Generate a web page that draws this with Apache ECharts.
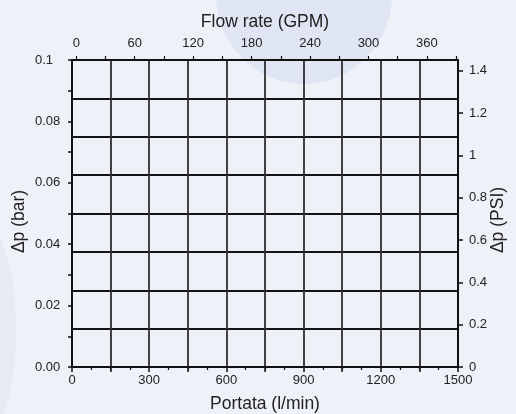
<!DOCTYPE html>
<html>
<head>
<meta charset="utf-8">
<script src="https://cdn.jsdelivr.net/npm/echarts@6/dist/echarts.min.js"></script>
<style>
  html, body { margin: 0; padding: 0; background: #eef1f8; }
  #main { width: 516px; height: 414px; }
</style>
</head>
<body>
<div id="main"></div>
<script>
// tick values / labels
var portataTicks = [0, 300, 600, 900, 1200, 1500];
var portataMinor = [0, 150, 300, 450, 600, 750, 900, 1050, 1200, 1350, 1500];
var gpmTicks = [0, 60, 120, 180, 240, 300, 360];
var gpmMinor = [0, 30, 60, 90, 120, 150, 180, 210, 240, 270, 300, 330, 360, 390];
var barTicks = [0, 0.02, 0.04, 0.06, 0.08, 0.1];
var barLabels = ['0.00', '0.02', '0.04', '0.06', '0.08', '0.1'];
var barMinor = [0, 0.01, 0.02, 0.03, 0.04, 0.05, 0.06, 0.07, 0.08, 0.09, 0.1];
var psiTicks = [0, 0.2, 0.4, 0.6, 0.8, 1, 1.2, 1.4];

var txt = '#222';
var font = '"Liberation Sans", Arial, sans-serif';
var axisLn = { onZero: false, lineStyle: { color: '#111', width: 2 } };
var plain = function (v) { return String(v); };

var myChart = echarts.init(document.getElementById('main'));
var option = {
    backgroundColor: '#eef1f8',
    textStyle: { fontFamily: font },
    graphic: [
        { type: 'ellipse', z: -10, silent: true, shape: { cx: 304, cy: -6, rx: 88, ry: 90 }, style: { fill: '#dfe5f2' } },
        { type: 'ellipse', z: -10, silent: true, shape: { cx: -24, cy: 330, rx: 40, ry: 115 }, style: { fill: '#e5eaf5' } }
    ],
    grid: { left: 72, right: 58, top: 60, bottom: 47, outerBoundsMode: 'none', containLabel: false },
    xAxis: [
        {   // Portata (l/min)
            type: 'value', position: 'bottom', min: 0, max: 1500,
            name: 'Portata (l/min)', nameLocation: 'middle', nameGap: 28, nameMoveOverlap: false,
            nameTextStyle: { fontSize: 17.5, color: txt, fontFamily: font },
            axisLine: axisLn,
            axisTick: { show: true, inside: false, length: 5, customValues: portataMinor, lineStyle: { color: '#111', width: 1.5 } },
            minorTick: { show: true, splitNumber: 4, length: 3, lineStyle: { color: '#111', width: 1.2 } },
            axisLabel: { customValues: portataTicks, formatter: plain, fontSize: 13, color: txt, margin: 7, fontFamily: font },
            splitLine: { show: false }
        },
        {   // Flow rate (GPM)
            type: 'value', position: 'top', min: -4.4, max: 391.9,
            name: 'Flow rate (GPM)', nameLocation: 'middle', nameGap: 28.5, nameMoveOverlap: false,
            nameTextStyle: { fontSize: 17.5, color: txt, fontFamily: font },
            axisLine: axisLn,
            axisTick: { show: true, inside: false, length: 4, customValues: gpmMinor, lineStyle: { color: '#111', width: 1.2 } },
            axisLabel: { customValues: gpmTicks, formatter: plain, fontSize: 13, color: txt, margin: 10, fontFamily: font },
            splitLine: { show: false }
        },
        {   // vertical grid
            type: 'value', position: 'bottom', min: 0, max: 1500, interval: 150,
            axisLine: { show: false, onZero: false }, axisTick: { show: false }, axisLabel: { show: false },
            splitLine: { show: true, lineStyle: { color: '#2e2e2e', width: 1.8 } }
        }
    ],
    yAxis: [
        {   // bar
            type: 'value', position: 'left', min: 0, max: 0.1,
            name: 'Δp (bar)', nameLocation: 'middle', nameGap: 43.5, nameRotate: 90, nameMoveOverlap: false,
            nameTextStyle: { fontSize: 17.5, color: txt, fontFamily: font, padding: [0, 16, 0, 0] },
            axisLine: axisLn,
            axisTick: { show: true, inside: false, length: 4, customValues: barMinor, lineStyle: { color: '#111', width: 1.5 } },
            axisLabel: {
                customValues: barTicks, fontSize: 13, color: txt, margin: 37, align: 'left', fontFamily: font,
                formatter: function (v) {
                    var i = barTicks.indexOf(v);
                    return i >= 0 ? barLabels[i] : v.toFixed(2);
                }
            },
            splitLine: { show: false }
        },
        {   // PSI
            type: 'value', position: 'right', min: 0, max: 1.4504,
            name: 'Δp (PSI)', nameLocation: 'middle', nameGap: 31, nameRotate: 90, nameMoveOverlap: false,
            nameTextStyle: { fontSize: 17.5, color: txt, fontFamily: font, padding: [0, 13, 0, 0] },
            axisLine: axisLn,
            axisTick: { show: true, inside: false, length: 5, customValues: psiTicks, lineStyle: { color: '#111', width: 1.5 } },
            axisLabel: { customValues: psiTicks, formatter: plain, fontSize: 13, color: txt, margin: 11, fontFamily: font },
            splitLine: { show: false }
        },
        {   // horizontal grid
            type: 'value', position: 'left', min: 0, max: 8, interval: 1,
            axisLine: { show: false, onZero: false }, axisTick: { show: false }, axisLabel: { show: false },
            splitLine: { show: true, lineStyle: { color: '#151515', width: 1.8 } }
        }
    ],
    series: [
        { type: 'line', xAxisIndex: 0, yAxisIndex: 0, data: [], silent: true }
    ]
};
myChart.setOption(option);
</script>
</body>
</html>
